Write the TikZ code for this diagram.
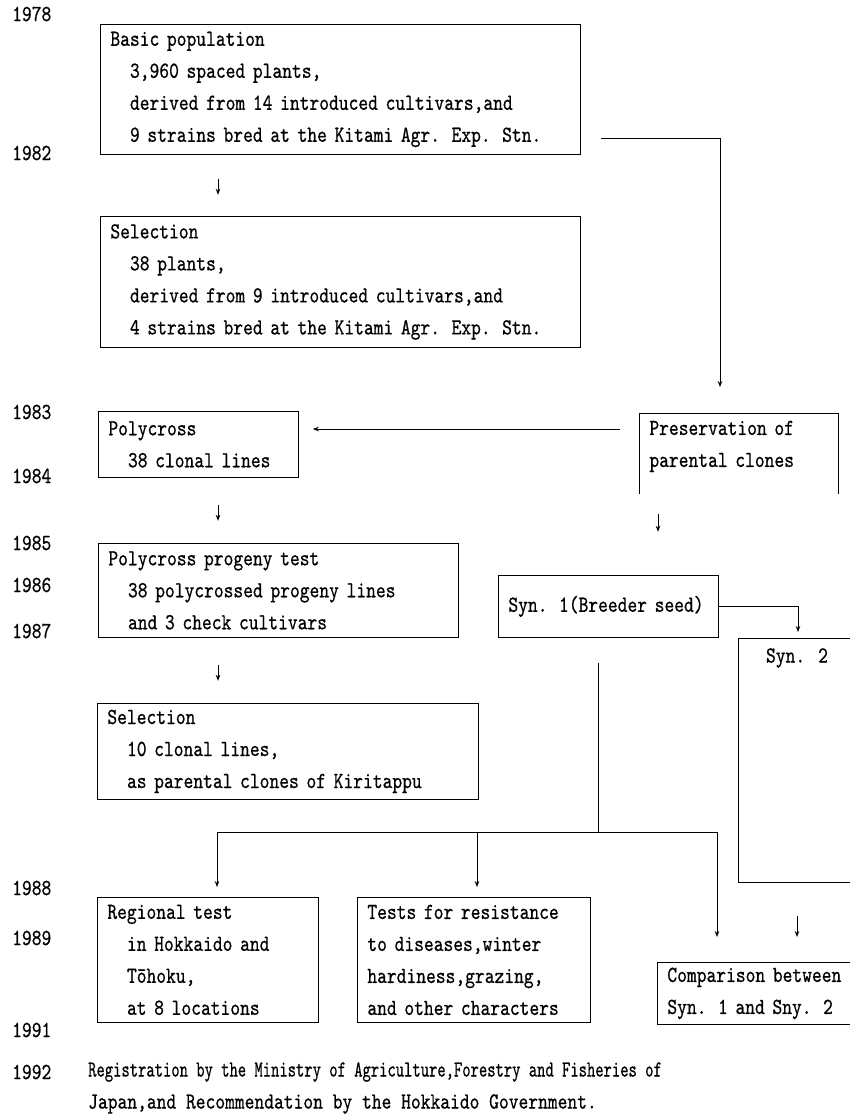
\documentclass[tikz,border=0pt]{standalone}
\usepackage{fontspec}
\setmainfont{lmmono10-regular.otf}[FakeStretch=0.81,FakeBold=0.6]
\usetikzlibrary{calc,positioning,arrows.meta}
\def\boxfont{\fontsize{23}{32}\selectfont}
\def\ind{\hspace*{19.6pt}}

\begin{document}
\begin{tikzpicture}[x=1pt, y=-1pt,
	box/.style={draw, line width=0.8pt, anchor=north west, align=left, inner xsep=10pt, inner ysep=0pt, font=\boxfont},
	openbox/.style={box, draw=none},
	arr/.style={line width=0.8pt, -{Stealth[length=6pt,width=4.5pt]}},
	link/.style={line width=0.8pt},
	yr/.style={anchor=west, inner sep=0pt, font=\boxfont}]
			%%%%% START %%%%%
			
			\useasboundingbox (0,0) rectangle (850,1114);
			
			% years
			\node[yr] (y1978) at (12,14) {1978};
			\node[yr] (y1982) at (12,153) {1982};
			\node[yr] (y1983) at (12,412) {1983};
			\node[yr] (y1984) at (12,476) {1984};
			\node[yr] (y1985) at (12,543) {1985};
			\node[yr] (y1986) at (12,585) {1986};
			\node[yr] (y1987) at (12,631) {1987};
			\node[yr] (y1988) at (12,888) {1988};
			\node[yr] (y1989) at (12,938) {1989};
			\node[yr] (y1991) at (12,1030) {1991};
			\node[yr] (y1992) at (12,1072) {1992};
			
			% left column
			\node[box, text width=460pt, minimum height=130pt] (basic) at (100,24) {Basic population\\\ind 3,960 spaced plants,\\\ind derived from 14 introduced cultivars,and\\\ind 9 strains bred at the Kitami Agr. Exp. Stn.};
			\node[box, text width=460pt, minimum height=131pt] (sel1) at (100,216) {Selection\\\ind 38 plants,\\\ind derived from 9 introduced cultivars,and\\\ind 4 strains bred at the Kitami Agr. Exp. Stn.};
			\node[box, text width=180pt, minimum height=66pt] (poly) at (98,411) {Polycross\\\ind 38 clonal lines};
			\node[box, text width=340pt, minimum height=94pt] (prog) at (98,543) {Polycross progeny test\\\ind 38 polycrossed progeny lines\\\ind and 3 check cultivars};
			\node[box, text width=361pt, minimum height=96pt] (sel2) at (97,703) {Selection\\\ind 10 clonal lines,\\\ind as parental clones of Kiritappu};
			
			\draw[arr] ($(basic.south west)+(118,24)$) -- ++(0,16);
			\draw[arr] ($(poly.south west)+(120,27)$) -- ++(0,16);
			\draw[arr] ($(prog.south west)+(120,27)$) -- ++(0,16);
			
			% right column
			\node[openbox, text width=179pt, minimum height=66pt] (pres) at (639,413) {Preservation of\\parental clones};
			\draw[link] ($(pres.south west)+(0,14)$) -- (pres.north west) -- (pres.north east) -- ($(pres.south east)+(0,14)$);
			
			\draw[arr] ($(basic.south east)+(20,-16)$) -| ($(pres.north west)+(81,-26)$);
			\draw[arr] ($(pres.north west)+(-19,16)$) -- ($(poly.north east)+(14,18)$);
			\draw[arr] ($(pres.south west)+(19,34)$) -- ++(0,18);
			
			\node[box, text width=200pt, minimum height=62pt] (syn1) at (498,575) {Syn. 1(Breeder seed)};
			
			\node[openbox, text width=84pt, minimum height=244pt] (syn2) at (738,638) {};
			\draw[link] ($(syn2.north east)+(12,0)$) -- (syn2.north west) -- (syn2.south west) -- ($(syn2.south east)+(12,0)$);
			\node[font=\boxfont, inner sep=0pt] (syn2lbl) at ($(syn2.north west)+(59,20)$) {Syn. 2};
			
			\draw[arr] (syn1.east) -| ($(syn2.north west)+(60,-6)$);
			
			% tests
			\node[box, text width=201pt, minimum height=125pt] (regional) at (97,897) {Regional test\\\ind in Hokkaido and\\\ind Tōhoku,\\\ind at 8 locations};
			\node[box, text width=213pt, minimum height=125pt] (tests) at (357,897) {Tests for resistance\\to diseases,winter\\hardiness,grazing,\\and other characters};
			\node[box, text width=180pt, minimum height=62pt] (comp) at (657,962) {Comparison between\\Syn. 1 and Sny. 2};
			
			\coordinate (fork) at ($(syn1.south west)+(100,195)$);
			\draw[link] ($(syn1.south west)+(100,25)$) -- (fork);
			\draw[arr] (fork) -| ($(regional.north west)+(120,-10)$);
			\draw[arr] (fork) -| ($(tests.north west)+(120,-10)$);
			\draw[arr] (fork) -| ($(comp.north west)+(60,-25)$);
			\draw[arr] ($(syn2.south west)+(59,33)$) -- ($(comp.north west)+(140,-25)$);
			
			% registration
			\node[font=\boxfont, anchor=west, align=left, inner sep=0pt] (reg) at (88,1088) {\scalebox{0.85}[1]{Registration by the Ministry of Agriculture,Forestry and Fisheries of}\\Japan,and Recommendation by the Hokkaido Government.};
			
			%%%%% END %%%%%
\end{tikzpicture}
\end{document}
